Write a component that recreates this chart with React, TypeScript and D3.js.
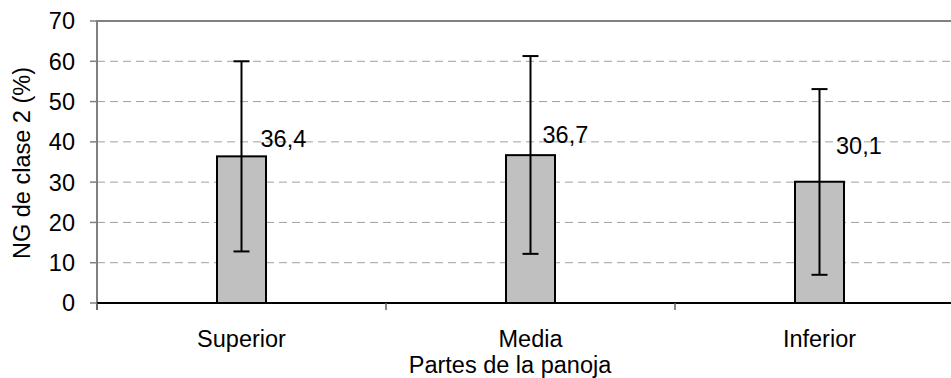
import React from "react";
import * as d3 from "d3";

const categories = ["Superior", "Media", "Inferior"];
const values = [36.4, 36.7, 30.1];
const errLow = [12.8, 12.2, 7.0];
const errHigh = [60.0, 61.3, 53.1];
const valueLabels = ["36,4", "36,7", "30,1"];
const yTicks = [0, 10, 20, 30, 40, 50, 60, 70];

// label placement offsets (layout, px)
const labelDx = [19, 12, 16.5];
const labelDy = [-9.3, -12, -27.7];

const W = 951;
const H = 378;
const left = 97;
const top = 21;
const bottom = 303;
const right = 97 + 289 * 3;
const FONT = "Liberation Sans, Arial, sans-serif";
const FS = 23.5;

export default function App() {
  const x = d3.scaleBand<string>().domain(categories).range([left, right]).paddingInner(0).paddingOuter(0);
  const y = d3.scaleLinear().domain([0, 70]).range([bottom, top]);
  const bw = 49;
  const bounds = [...categories.map((c) => x(c)!), right];

  return (
    <svg
      width={W}
      height={H}
      style={{ position: "absolute", left: 0, top: 0, background: "#fff" }}
      fontFamily={FONT}
    >
      {/* gridlines */}
      {yTicks.filter((t) => t > 0 && t < 70).map((t) => (
        <line key={"g" + t} x1={left} x2={W} y1={y(t)} y2={y(t)} stroke="#a0a0a0" strokeWidth={1} strokeDasharray="8,5" />
      ))}
      {/* top border */}
      <line x1={left} x2={W} y1={y(70)} y2={y(70)} stroke="#808080" strokeWidth={2} />
      {/* y axis */}
      <line x1={left} x2={left} y1={y(70) - 1} y2={bottom + 7} stroke="#808080" strokeWidth={2} />
      {yTicks.map((t) => (
        <g key={"t" + t}>
          <line x1={left - 7} x2={left} y1={y(t)} y2={y(t)} stroke="#808080" strokeWidth={1.5} />
          <text x={75} y={y(t)} dy="0.36em" textAnchor="end" fontSize={FS} fill="#000">{t}</text>
        </g>
      ))}
      {/* bars */}
      {categories.map((c, i) => {
        const cx = x(c)! + x.bandwidth() / 2;
        return (
          <g key={c}>
            <rect x={cx - bw / 2} y={y(values[i])} width={bw} height={bottom - y(values[i])} fill="#c0c0c0" stroke="#000" strokeWidth={2} />
          </g>
        );
      })}
      {/* x axis */}
      <line x1={left} x2={W} y1={bottom} y2={bottom} stroke="#000" strokeWidth={2} />
      {bounds.map((b, i) => (
        <line key={"xt" + i} x1={b} x2={b} y1={bottom} y2={bottom + 7} stroke="#606060" strokeWidth={1.5} />
      ))}
      {/* error bars */}
      {categories.map((c, i) => {
        const cx = x(c)! + x.bandwidth() / 2;
        return (
          <g key={"e" + c} stroke="#000" strokeWidth={2}>
            <line x1={cx} x2={cx} y1={y(errLow[i])} y2={y(errHigh[i])} />
            <line x1={cx - 8} x2={cx + 8} y1={y(errLow[i])} y2={y(errLow[i])} />
            <line x1={cx - 8} x2={cx + 8} y1={y(errHigh[i])} y2={y(errHigh[i])} />
          </g>
        );
      })}
      {/* value labels */}
      {categories.map((c, i) => {
        const cx = x(c)! + x.bandwidth() / 2;
        return (
          <text key={"l" + c} x={cx + labelDx[i]} y={y(values[i]) + labelDy[i]} fontSize={FS} fill="#000">
            {valueLabels[i]}
          </text>
        );
      })}
      {/* category labels */}
      {categories.map((c) => (
        <text key={"c" + c} x={x(c)! + x.bandwidth() / 2} y={347} textAnchor="middle" fontSize={FS} fill="#000">{c}</text>
      ))}
      <text x={510} y={373} textAnchor="middle" fontSize={FS} fill="#000">Partes de la panoja</text>
      <text transform={`translate(30,${163}) rotate(-90)`} textAnchor="middle" fontSize={FS} fill="#000">NG de clase 2 (%)</text>
    </svg>
  );
}
